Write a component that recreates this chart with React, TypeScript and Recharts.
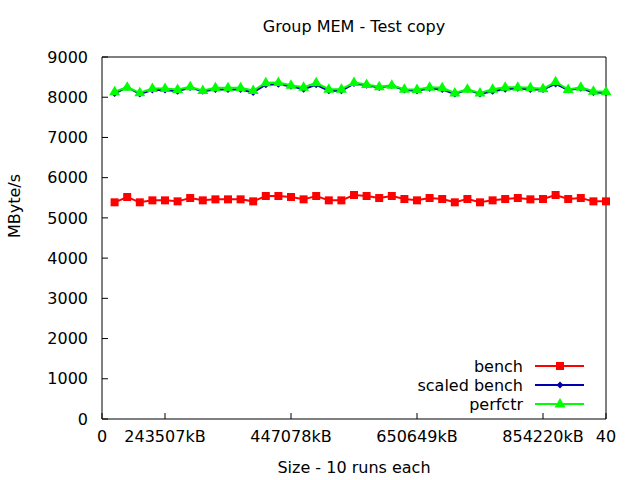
import { Line, LineChart, XAxis, YAxis } from "recharts";

const runs = [
  1, 2, 3, 4, 5, 6, 7, 8, 9, 10, 11, 12, 13, 14, 15, 16, 17, 18, 19, 20,
  21, 22, 23, 24, 25, 26, 27, 28, 29, 30, 31, 32, 33, 34, 35, 36, 37, 38, 39, 40,
];

const bench = [
  5387, 5519, 5387, 5436, 5436, 5411, 5494, 5436, 5461, 5461,
  5461, 5411, 5544, 5544, 5519, 5461, 5544, 5436, 5436, 5569,
  5544, 5494, 5544, 5469, 5436, 5494, 5469, 5387, 5469, 5387,
  5436, 5469, 5494, 5461, 5469, 5569, 5469, 5494, 5411, 5411,
];

const scaledBench = [
  8090, 8250, 8080, 8180, 8180, 8150, 8240, 8150, 8190, 8190,
  8190, 8120, 8310, 8320, 8270, 8200, 8310, 8160, 8160, 8340,
  8300, 8240, 8290, 8180, 8160, 8220, 8190, 8080, 8190, 8080,
  8150, 8200, 8220, 8190, 8190, 8330, 8180, 8220, 8120, 8110,
];

const perfctr = [
  8135, 8250, 8110, 8215, 8215, 8190, 8260, 8165, 8235, 8235,
  8235, 8165, 8360, 8365, 8300, 8250, 8360, 8200, 8200, 8365,
  8317, 8258, 8300, 8200, 8192, 8250, 8233, 8108, 8200, 8108,
  8200, 8250, 8250, 8233, 8208, 8383, 8192, 8250, 8150, 8133,
];

const xTicks = [0, 5, 15, 25, 35, 40];
const xTickLabels = ["0", "243507kB", "447078kB", "650649kB", "854220kB", "40"];
const yTicks = [0, 1000, 2000, 3000, 4000, 5000, 6000, 7000, 8000, 9000];

const data = runs.map((run, i) => ({
  run,
  bench: bench[i],
  scaled: scaledBench[i],
  perfctr: perfctr[i],
}));

const FONT = "'DejaVu Sans', sans-serif";
const RED = "#ff0000";
const BLUE = "#0000b0";
const GREEN = "#00ff00";

const Square = (props: any) => {
  const { cx, cy } = props;
  if (cx == null || cy == null) return null;
  return <rect x={cx - 4} y={cy - 4} width={8} height={8} fill={RED} />;
};

const Diamond = (props: any) => {
  const { cx, cy } = props;
  if (cx == null || cy == null) return null;
  return <path d={`M${cx},${cy - 3.5}L${cx + 3.5},${cy}L${cx},${cy + 3.5}L${cx - 3.5},${cy}Z`} fill={BLUE} />;
};

const Triangle = (props: any) => {
  const { cx, cy } = props;
  if (cx == null || cy == null) return null;
  return <path d={`M${cx},${cy - 6}L${cx + 5.5},${cy + 3.5}L${cx - 5.5},${cy + 3.5}Z`} fill={GREEN} />;
};

const legendRows = [
  { name: "bench", color: RED, Marker: Square },
  { name: "scaled bench", color: BLUE, Marker: Diamond },
  { name: "perfctr", color: GREEN, Marker: Triangle },
];

// legend box sits inside the plot, bottom right, like gnuplot's key
const ChartLegend = () => (
  <svg width={200} height={60} style={{ position: "absolute", left: 400, top: 356 }}>
    {legendRows.map((row, i) => {
      const y = 10 + i * 19;
      return (
        <g key={row.name}>
          <text x={123} y={y} dy="0.35em" textAnchor="end" fontFamily={FONT} fontSize={16} fill="#000">
            {row.name}
          </text>
          <line x1={135} x2={184} y1={y} y2={y} stroke={row.color} strokeWidth={2} />
          <row.Marker cx={160} cy={y} />
        </g>
      );
    })}
  </svg>
);

export default function App() {
  return (
    <div style={{ position: "fixed", left: 0, top: 0, width: 640, height: 480, background: "#fff" }}>
      <div
        style={{
          position: "absolute",
          left: 102,
          width: 504,
          top: 17,
          textAlign: "center",
          fontFamily: FONT,
          fontSize: 16,
          color: "#000",
        }}
      >
        Group MEM - Test copy
      </div>
      <LineChart
        width={640}
        height={480}
        data={data}
        margin={{ top: 56, right: 33, left: 0, bottom: 0 }}
        style={{ position: "absolute", left: 0, top: 0 }}
      >
        <XAxis
          xAxisId="bottom"
          dataKey="run"
          type="number"
          domain={[0, 40]}
          ticks={xTicks}
          tickFormatter={(v: number) => xTickLabels[xTicks.indexOf(v)] ?? String(v)}
          height={61}
          tickSize={-6}
          tickMargin={18}
          stroke="#000"
          tick={{ fill: "#000", fontFamily: FONT, fontSize: 16 }}
          label={{ value: "Size - 10 runs each", position: "insideBottom", offset: 7, fill: "#000", fontFamily: FONT, fontSize: 16 }}
        />
        <XAxis
          xAxisId="top"
          orientation="top"
          dataKey="run"
          type="number"
          domain={[0, 40]}
          ticks={xTicks}
          height={1}
          tickSize={-6}
          tick={false}
          stroke="#000"
        />
        <YAxis
          yAxisId="left"
          domain={[0, 9000]}
          ticks={yTicks}
          width={102}
          tickSize={-6}
          tickMargin={20}
          stroke="#000"
          tick={{ fill: "#000", fontFamily: FONT, fontSize: 16 }}
          label={{ value: "MByte/s", angle: -90, position: "insideLeft", offset: 14, fill: "#000", fontFamily: FONT, fontSize: 16 }}
        />
        <YAxis
          yAxisId="right"
          orientation="right"
          domain={[0, 9000]}
          ticks={yTicks}
          width={1}
          tickSize={-6}
          tick={false}
          stroke="#000"
        />
        <Line
          xAxisId="bottom"
          yAxisId="left"
          dataKey="bench"
          name="bench"
          stroke={RED}
          strokeWidth={2}
          dot={<Square />}
          activeDot={false}
          isAnimationActive={false}
        />
        <Line
          xAxisId="bottom"
          yAxisId="left"
          dataKey="scaled"
          name="scaled bench"
          stroke={BLUE}
          strokeWidth={2}
          dot={<Diamond />}
          activeDot={false}
          isAnimationActive={false}
        />
        <Line
          xAxisId="bottom"
          yAxisId="left"
          dataKey="perfctr"
          name="perfctr"
          stroke={GREEN}
          strokeWidth={2}
          dot={<Triangle />}
          activeDot={false}
          isAnimationActive={false}
        />
      </LineChart>
      <ChartLegend />
    </div>
  );
}
